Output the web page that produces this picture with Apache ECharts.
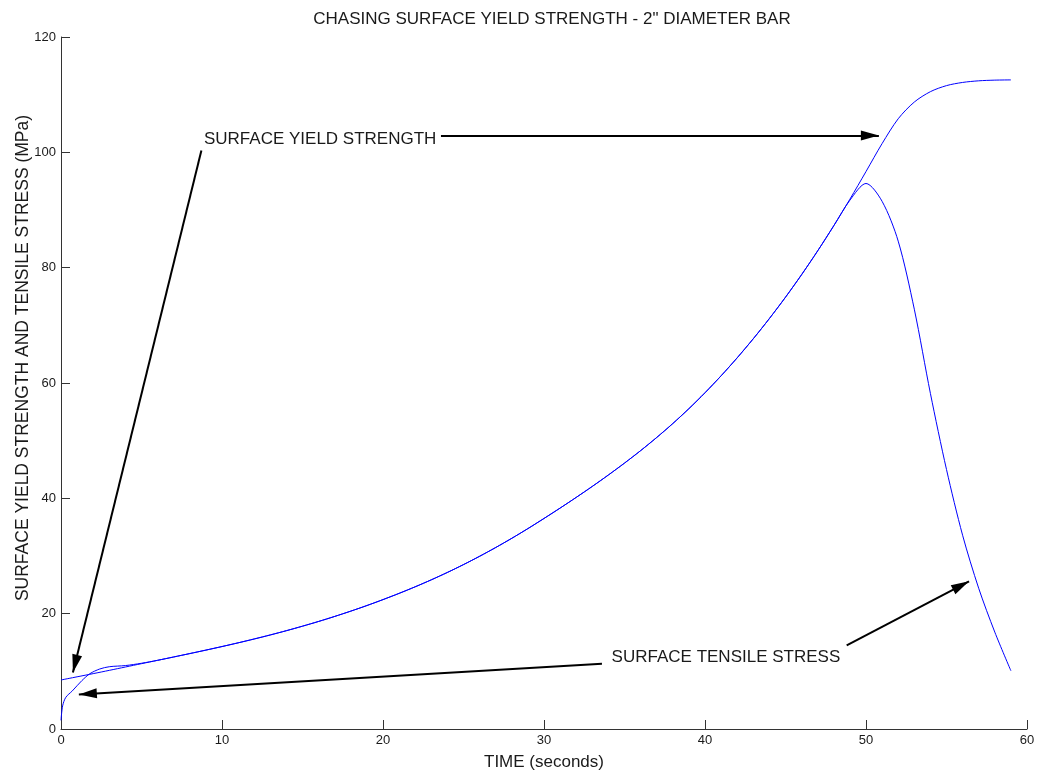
<!DOCTYPE html>
<html>
<head>
<meta charset="utf-8">
<script src="https://cdn.jsdelivr.net/npm/echarts@6/dist/echarts.min.js"></script>
<style>
  html, body { margin: 0; padding: 0; background: #fff; }
  #chart { width: 1039px; height: 776px; }
</style>
</head>
<body>
<div id="chart"></div>
<script>
// time in seconds, stress in MPa
const yieldTime = [0, 1, 2, 3, 4, 5, 6, 7, 8, 9, 10, 11, 12, 13, 14, 15, 16, 17, 18, 19, 20, 21, 22, 23, 24, 25, 26, 27, 28, 29, 30, 31, 32, 33, 34, 35, 36, 37, 38, 39, 40, 41, 42, 43, 44, 45, 46, 47, 48, 49, 50, 51, 52, 53, 54, 55, 56, 57, 58, 59]
const yieldMPa = [8.5, 9.05, 9.6, 10.17, 10.75, 11.33, 11.91, 12.49, 13.08, 13.68, 14.3, 14.94, 15.61, 16.31, 17.05, 17.83, 18.65, 19.52, 20.44, 21.41, 22.44, 23.52, 24.66, 25.87, 27.15, 28.51, 29.95, 31.47, 33.07, 34.75, 36.51, 38.31, 40.16, 42.07, 44.05, 46.11, 48.27, 50.55, 52.97, 55.55, 58.31, 61.25, 64.37, 67.68, 71.18, 74.88, 78.79, 82.92, 87.28, 91.87, 96.67, 101.52, 105.82, 108.72, 110.52, 111.57, 112.12, 112.4, 112.52, 112.56]

const stressTime = [0, 0.1, 0.3, 0.7, 1.3, 1.8, 2.4, 3, 4, 5, 6, 7, 8, 9, 10, 11, 12, 13, 14, 15, 16, 17, 18, 19, 20, 21, 22, 23, 24, 25, 26, 27, 28, 29, 30, 31, 32, 33, 34, 35, 36, 37, 38, 39, 40, 41, 42, 43, 44, 45, 46, 47, 48, 49, 50, 51, 52, 53, 54, 55, 56, 57, 58, 59]
const stressMPa = [1.5, 4.0, 5.5, 6.6, 8.4, 9.6, 10.4, 10.8, 11.0, 11.4, 11.91, 12.49, 13.08, 13.68, 14.3, 14.94, 15.61, 16.31, 17.05, 17.83, 18.65, 19.52, 20.44, 21.41, 22.44, 23.52, 24.66, 25.87, 27.15, 28.51, 29.95, 31.47, 33.07, 34.75, 36.51, 38.31, 40.16, 42.07, 44.05, 46.11, 48.27, 50.55, 52.97, 55.55, 58.31, 61.25, 64.37, 67.68, 71.18, 74.88, 78.79, 82.92, 87.28, 91.7, 94.6, 91.5, 84.6, 72.8, 58.2, 45.0, 33.6, 24.4, 16.8, 10.1]

const xTicks = [0, 10, 20, 30, 40, 50, 60]
const yTicks = [0, 20, 40, 60, 80, 100, 120]

// annotation arrows: [from, to] in data coords
const arrows = [
  [[8.72, 100.3], [0.74, 9.8]],
  [[23.6, 102.9], [50.8, 102.9]],
  [[33.6, 11.3], [1.11, 6.0]],
  [[48.8, 14.5], [56.4, 25.6]]
]
const notes = [
  { text: 'SURFACE YIELD STRENGTH', at: [8.88, 102.3] },
  { text: 'SURFACE TENSILE STRESS', at: [34.2, 12.4] }
]

const font = "'Liberation Sans', Arial, sans-serif"
const ink = '#1a1a1a'
const arrowHead = 'path://M5 0L10 18L0 18Z'

const zip = (xs, ys) => xs.map((x, i) => [x, ys[i]])

const chart = echarts.init(document.getElementById('chart'))

const option = {
  animation: false,
  backgroundColor: '#fff',
  title: {
    text: 'CHASING SURFACE YIELD STRENGTH - 2" DIAMETER BAR',
    left: 547,
    top: 6,
    textAlign: 'center',
    textStyle: { fontFamily: font, fontSize: 17, fontWeight: 'normal', color: ink }
  },
  grid: { left: 61, right: 12, top: 37, bottom: 45 },
  xAxis: {
    type: 'value',
    min: xTicks[0],
    max: xTicks[xTicks.length - 1],
    interval: 10,
    name: 'TIME (seconds)',
    nameLocation: 'middle',
    nameGap: 25,
    nameTextStyle: { fontFamily: font, fontSize: 17, color: ink },
    axisLine: { onZero: false, lineStyle: { color: '#333', width: 1 } },
    axisTick: { inside: true, length: 9, lineStyle: { color: '#333' } },
    axisLabel: { fontFamily: font, fontSize: 13, color: ink, margin: 5 },
    splitLine: { show: false }
  },
  yAxis: {
    type: 'value',
    min: yTicks[0],
    max: yTicks[yTicks.length - 1],
    interval: 20,
    axisLine: { show: true, onZero: false, lineStyle: { color: '#333', width: 1 } },
    axisTick: { show: true, inside: true, length: 9, lineStyle: { color: '#333' } },
    axisLabel: { fontFamily: font, fontSize: 13, color: ink, margin: 5 },
    splitLine: { show: false }
  },
  graphic: [{
    type: 'text',
    x: 23,
    y: 358,
    rotation: Math.PI / 2,
    style: {
      text: 'SURFACE YIELD STRENGTH AND TENSILE STRESS (MPa)',
      font: '17.5px ' + font,
      fill: ink,
      align: 'center',
      verticalAlign: 'middle'
    }
  }],
  series: [
    {
      name: 'Yield strength',
      type: 'line',
      data: zip(yieldTime, yieldMPa),
      showSymbol: false,
      smooth: 0.3,
      lineStyle: { color: '#0000ff', width: 1 },
      markLine: {
        silent: true,
        symbol: ['none', 'none'],
        label: { show: false },
        lineStyle: { color: '#000', width: 2, type: 'solid' },
        data: arrows.map(([a, b]) => [
          { coord: a },
          { coord: b, symbol: arrowHead, symbolSize: [10, 18], symbolOffset: [0, 9] }
        ])
      },
      markPoint: {
        silent: true,
        symbol: 'circle',
        symbolSize: 0,
        label: {
          show: true,
          position: 'right',
          distance: 0,
          fontFamily: font,
          fontSize: 17,
          color: ink
        },
        data: notes.map(n => ({ coord: n.at, label: { formatter: n.text } }))
      }
    },
    {
      name: 'Tensile stress',
      type: 'line',
      data: zip(stressTime, stressMPa),
      showSymbol: false,
      smooth: 0.3,
      lineStyle: { color: '#0000ff', width: 1 }
    }
  ]
}

chart.setOption(option)
</script>
</body>
</html>
